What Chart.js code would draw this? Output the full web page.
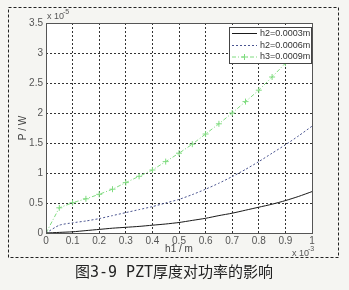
<!DOCTYPE html>
<html><head><meta charset="utf-8">
<script src="https://cdn.jsdelivr.net/npm/chart.js@4/dist/chart.umd.min.js"></script>
<style>html,body{margin:0;padding:0;background:#f5f5f2;}#wrap{width:349px;height:290px;position:relative;}</style>
</head><body><div id="wrap"><canvas id="c" width="349" height="290"></canvas></div>
<script>
// h1 (x 10^-3 m)
const h1Values = [0,0.05,0.1,0.15,0.2,0.25,0.3,0.35,0.4,0.45,0.5,0.55,0.6,0.65,0.7,0.75,0.8,0.85,0.9,0.95,1.0];
// P (x 10^-5 W)
const powerH03 = [0,0.01,0.02,0.04,0.06,0.08,0.095,0.11,0.13,0.15,0.175,0.21,0.245,0.29,0.33,0.38,0.43,0.48,0.54,0.61,0.69];
const powerH06 = [0,0.13,0.17,0.2,0.24,0.29,0.34,0.39,0.44,0.5,0.56,0.64,0.73,0.83,0.94,1.06,1.19,1.33,1.47,1.62,1.78];
const powerH09 = [0,0.42,0.505,0.57,0.645,0.73,0.84,0.945,1.05,1.19,1.33,1.48,1.65,1.82,2.0,2.19,2.38,2.6,2.83,3.07,3.33];
const seriesLabels = ['h2=0.0003m','h2=0.0006m','h3=0.0009m'];
const xTicks = [0,0.1,0.2,0.3,0.4,0.5,0.6,0.7,0.8,0.9,1];
const yTicks = [0,0.5,1,1.5,2,2.5,3,3.5];
const xTitle = 'h1 / m';
const yTitle = 'P / W';
const caption = '图3-9 PZT厚度对功率的影响';

const pts = (ys) => h1Values.map((x,i)=>({x:x,y:ys[i]}));
const GREEN = '#80dc80';
const BLUE = '#4a5490';
const BLACK = '#1a1a1a';
const tickFont = {family:'Liberation Sans', size:10};

const deco = {
  id:'deco',
  beforeDraw(chart){
    const {ctx, chartArea:a} = chart;
    ctx.save();
    ctx.fillStyle = '#ffffff';
    ctx.fillRect(a.left, a.top, a.right-a.left, a.bottom-a.top);
    ctx.restore();
  },
  afterDatasetsDraw(chart){
    const {ctx, chartArea:a} = chart;
    ctx.save();
    // plot box
    ctx.strokeStyle = '#555';
    ctx.lineWidth = 1;
    ctx.setLineDash([]);
    ctx.strokeRect(Math.round(a.left)+0.5, Math.round(a.top)+0.5, Math.round(a.right-a.left), Math.round(a.bottom-a.top));
    // outer dashed frame
    ctx.strokeStyle = '#222';
    ctx.setLineDash([3,2]);
    ctx.strokeRect(8.5, 7.5, 330, 250);
    ctx.setLineDash([]);
    // legend
    const lx=229, ly=27, lw=82, lh=36;
    ctx.fillStyle = '#fff';
    ctx.fillRect(lx, ly, lw, lh);
    ctx.strokeStyle = '#444';
    ctx.strokeRect(lx+0.5, ly+0.5, lw, lh);
    const rows = [
      {y:33, color:BLACK, dash:[], marker:false},
      {y:45, color:BLUE, dash:[2,2], marker:false},
      {y:56.5, color:GREEN, dash:[4,2,1,2], marker:true}
    ];
    ctx.font = '9px "Liberation Sans"';
    ctx.textBaseline = 'middle';
    ctx.textAlign = 'left';
    rows.forEach((r,i)=>{
      ctx.strokeStyle = r.color;
      ctx.setLineDash(r.dash);
      ctx.beginPath(); ctx.moveTo(232, r.y+0.5); ctx.lineTo(257, r.y+0.5); ctx.stroke();
      ctx.setLineDash([]);
      if(r.marker){
        ctx.beginPath(); ctx.moveTo(244.5, r.y-2.5); ctx.lineTo(244.5, r.y+3.5);
        ctx.moveTo(241.5, r.y+0.5); ctx.lineTo(247.5, r.y+0.5); ctx.stroke();
      }
      ctx.fillStyle = '#333';
      ctx.fillText(seriesLabels[i], 260, r.y+0.5);
    });
    // exponent labels
    ctx.fillStyle = '#555';
    ctx.font = '9px "Liberation Sans"';
    ctx.textBaseline = 'alphabetic';
    ctx.fillText('x 10', 47, 19);
    ctx.font = '7px "Liberation Sans"';
    ctx.fillText('-5', 63, 14);
    ctx.font = '9px "Liberation Sans"';
    ctx.fillText('x 10', 292, 256);
    ctx.font = '7px "Liberation Sans"';
    ctx.fillText('-3', 308, 251);
    // axis titles
    ctx.font = '10px "Liberation Sans"';
    ctx.textAlign = 'center';
    ctx.textBaseline = 'middle';
    ctx.fillStyle = '#444';
    ctx.fillText(xTitle, 179, 249);
    ctx.save();
    ctx.translate(23, 128);
    ctx.rotate(-Math.PI/2);
    ctx.fillText(yTitle, 0, 0);
    ctx.restore();
    // caption
    ctx.fillStyle = '#222';
    ctx.font = '15px "DejaVu Sans Mono", "Noto Sans CJK SC"';
    ctx.fillText(caption, 174, 273);
    ctx.restore();
  }
};

new Chart(document.getElementById('c'), {
  type:'line',
  data:{datasets:[
    {label:seriesLabels[0], data:pts(powerH03), borderColor:BLACK, borderWidth:1, pointRadius:0, tension:0.2, fill:false},
    {label:seriesLabels[1], data:pts(powerH06), borderColor:BLUE, borderWidth:1, borderDash:[2,2], pointRadius:0, tension:0.2, fill:false},
    {label:seriesLabels[2], data:pts(powerH09), borderColor:GREEN, borderWidth:1, borderDash:[4,2,1,2], pointStyle:'cross', pointRadius:3, pointBorderColor:GREEN, pointBorderWidth:1, fill:false}
  ]},
  options:{
    responsive:false, animation:false, devicePixelRatio:1,
    layout:{padding:{left:0, top:23, right:37, bottom:0}},
    plugins:{legend:{display:false}, tooltip:{enabled:false}},
    scales:{
      x:{type:'linear', min:0, max:1,
        afterBuildTicks(s){ s.ticks = xTicks.map(v=>({value:v})); },
        afterFit(s){ s.height = 57; },
        ticks:{font:tickFont, color:'#555', padding:2, maxRotation:0, autoSkip:false, callback:(v)=>String(v)},
        grid:{color:'#333', lineWidth:1, drawTicks:false},
        border:{display:false, dash:[2,2]}
      },
      y:{type:'linear', min:0, max:3.5,
        afterBuildTicks(s){ s.ticks = yTicks.map(v=>({value:v})); },
        afterFit(s){ s.width = 46; },
        ticks:{font:tickFont, color:'#555', padding:3, autoSkip:false, callback:(v)=>String(v)},
        grid:{color:'#333', lineWidth:1, drawTicks:false},
        border:{display:false, dash:[2,2]}
      }
    }
  },
  plugins:[deco]
});
</script></body></html>
